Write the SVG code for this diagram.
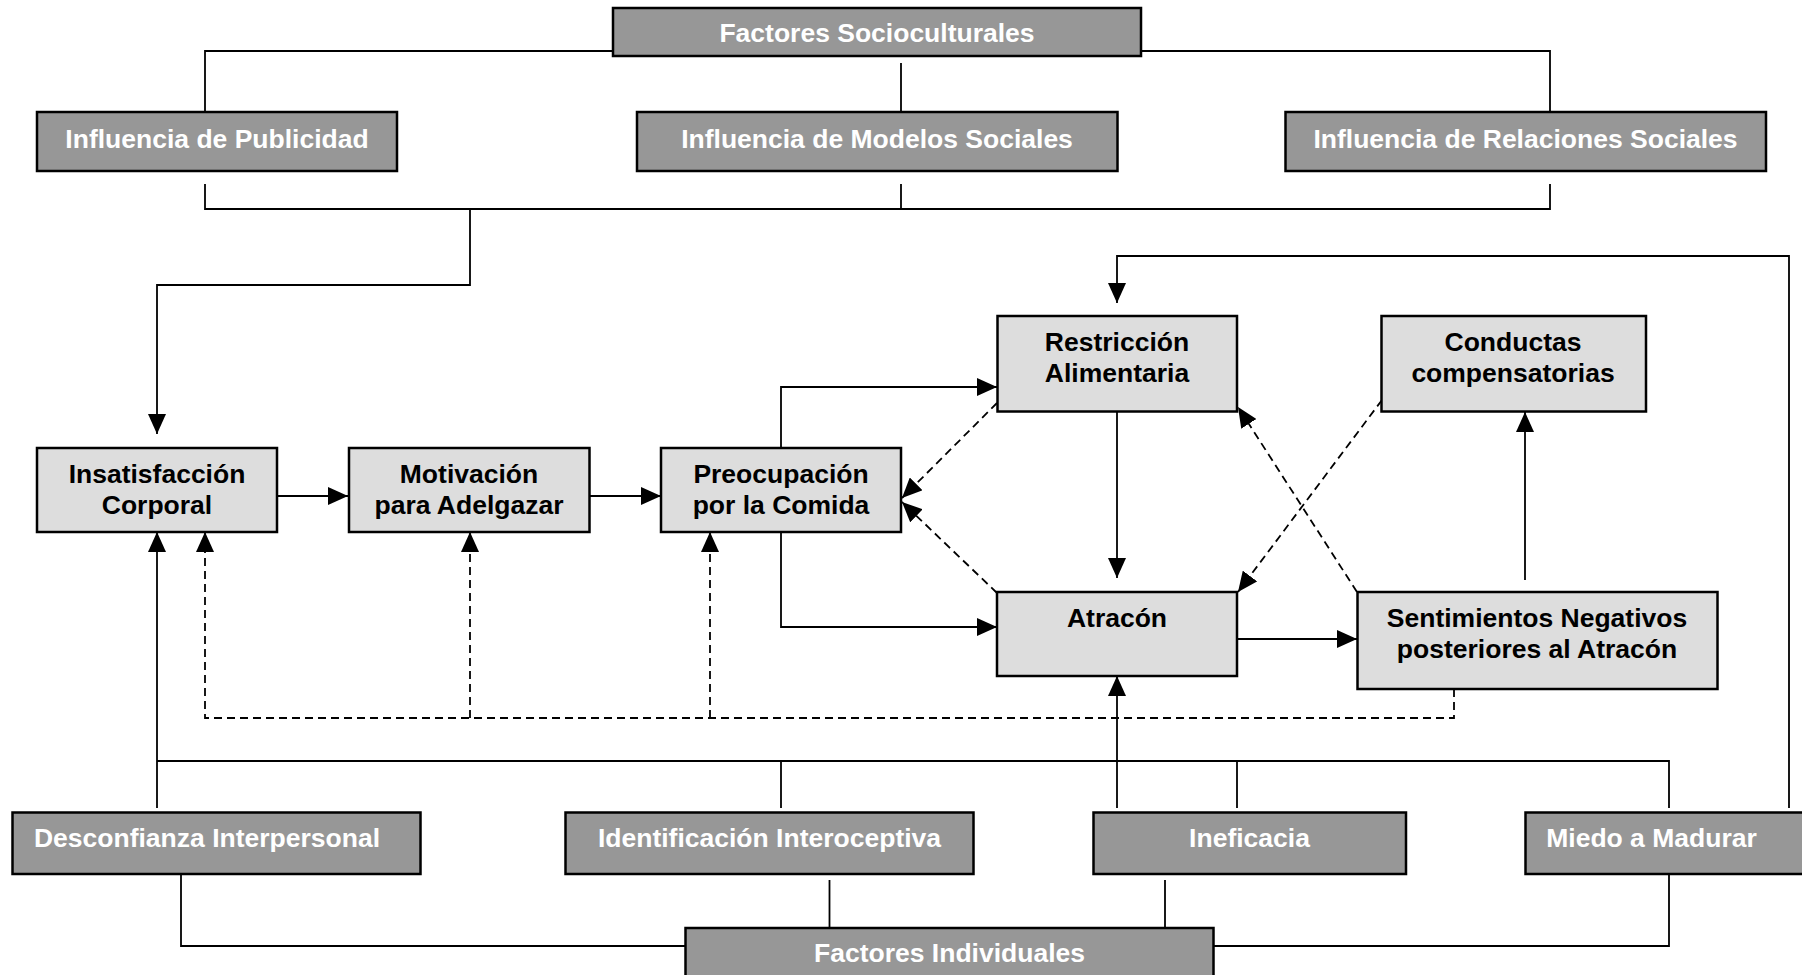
<svg xmlns="http://www.w3.org/2000/svg" width="1802" height="975" viewBox="0 0 1802 975">
<style>
.dark rect{fill:#979797;stroke:#000;stroke-width:2.5}
.light rect{fill:#dddddd;stroke:#000;stroke-width:2.5}
text{font-family:"Liberation Sans",Arial,Helvetica,sans-serif;font-weight:bold;font-size:26.5px;text-anchor:middle}
.dark text{fill:#fff}
.light text{fill:#000}
.ln{fill:none;stroke:#000;stroke-width:1.8}
.ds{fill:none;stroke:#000;stroke-width:1.8;stroke-dasharray:8 5}
</style>
<defs>
<marker id="ah" viewBox="0 0 20 18" markerWidth="20" markerHeight="18" refX="20" refY="9" orient="auto" markerUnits="userSpaceOnUse">
<path d="M0,0 L20,9 L0,18 z" fill="#000"/>
</marker>
</defs>
<rect width="1802" height="975" fill="#fff"/>
<g id="connectors">
<path class="ln" d="M613,51 H205 V112"/>
<path class="ln" d="M1141,51 H1550 V112"/>
<path class="ln" d="M901,63 V112"/>
<path class="ln" d="M205,184 V209 H1550 V184"/>
<path class="ln" d="M901,184 V209"/>
<path class="ln" d="M470,209 V285 H157 V434" marker-end="url(#ah)"/>
<path class="ln" d="M277,496 H348" marker-end="url(#ah)"/>
<path class="ln" d="M590,496 H661" marker-end="url(#ah)"/>
<path class="ln" d="M781,448 V387 H997" marker-end="url(#ah)"/>
<path class="ln" d="M781,532 V627 H997" marker-end="url(#ah)"/>
<path class="ln" d="M1117,412 V578" marker-end="url(#ah)"/>
<path class="ln" d="M1237,639 H1357" marker-end="url(#ah)"/>
<path class="ln" d="M1525,580 V412" marker-end="url(#ah)"/>
<path class="ln" d="M1789,808 V256 H1117 V303" marker-end="url(#ah)"/>
<path class="ln" d="M1117,808 V676" marker-end="url(#ah)"/>
<path class="ln" d="M157,808 V532" marker-end="url(#ah)"/>
<path class="ln" d="M157,761 H1669 V808"/>
<path class="ln" d="M781,761 V808"/>
<path class="ln" d="M1237,761 V808"/>
<path class="ln" d="M181,874 V946 H685"/>
<path class="ln" d="M1669,874 V946 H1214"/>
<path class="ln" d="M829.5,880 V928"/>
<path class="ln" d="M1165,880 V928"/>
<path class="ds" d="M997,403 L902,498" marker-end="url(#ah)"/>
<path class="ds" d="M997,593 L902,502" marker-end="url(#ah)"/>
<path class="ds" d="M1357,592 L1238,407" marker-end="url(#ah)"/>
<path class="ds" d="M1382,400 L1238,592" marker-end="url(#ah)"/>
<path class="ds" d="M1454,689 V718 H205 V532" marker-end="url(#ah)"/>
<path class="ds" d="M470,718 V532" marker-end="url(#ah)"/>
<path class="ds" d="M710,718 V532" marker-end="url(#ah)"/>
</g>
<g id="factores-socioculturales" class="dark"><rect x="613" y="8" width="528" height="48"/><text x="877" y="42">Factores Socioculturales</text></g>
<g id="influencia-publicidad" class="dark"><rect x="37" y="112" width="360" height="59"/><text x="217" y="147.5">Influencia de Publicidad</text></g>
<g id="influencia-modelos" class="dark"><rect x="637" y="112" width="480.5" height="59"/><text x="877" y="147.5">Influencia de Modelos Sociales</text></g>
<g id="influencia-relaciones" class="dark"><rect x="1285.5" y="112" width="480.5" height="59"/><text x="1525.5" y="147.5">Influencia de Relaciones Sociales</text></g>
<g id="insatisfaccion" class="light"><rect x="37" y="448" width="240" height="84"/><text x="157" y="483">Insatisfacción</text><text x="157" y="514">Corporal</text></g>
<g id="motivacion" class="light"><rect x="349" y="448" width="240.5" height="84"/><text x="469" y="483">Motivación</text><text x="469" y="514">para Adelgazar</text></g>
<g id="preocupacion" class="light"><rect x="661" y="448" width="240" height="84"/><text x="781" y="483">Preocupación</text><text x="781" y="514">por la Comida</text></g>
<g id="restriccion" class="light"><rect x="997.5" y="316" width="239.5" height="95.5"/><text x="1117" y="351">Restricción</text><text x="1117" y="382">Alimentaria</text></g>
<g id="conductas" class="light"><rect x="1381.5" y="316" width="264.5" height="95.5"/><text x="1513" y="351">Conductas</text><text x="1513" y="382">compensatorias</text></g>
<g id="atracon" class="light"><rect x="997" y="592" width="240" height="84"/><text x="1117" y="627">Atracón</text></g>
<g id="sentimientos" class="light"><rect x="1357.5" y="592" width="360" height="97"/><text x="1537" y="627">Sentimientos Negativos</text><text x="1537" y="658">posteriores al Atracón</text></g>
<g id="desconfianza" class="dark"><rect x="12.5" y="812.5" width="408" height="61.5"/><text x="207" y="847">Desconfianza Interpersonal</text></g>
<g id="identificacion" class="dark"><rect x="565.5" y="812.5" width="408" height="61.5"/><text x="769.5" y="847">Identificación Interoceptiva</text></g>
<g id="ineficacia" class="dark"><rect x="1093.5" y="812.5" width="312.5" height="61.5"/><text x="1249.5" y="847">Ineficacia</text></g>
<g id="miedo" class="dark"><rect x="1525.5" y="812.5" width="290" height="61.5"/><text x="1651.5" y="847">Miedo a Madurar</text></g>
<g id="factores-individuales" class="dark"><rect x="685.5" y="928" width="528" height="60"/><text x="949.5" y="962">Factores Individuales</text></g>
</svg>
